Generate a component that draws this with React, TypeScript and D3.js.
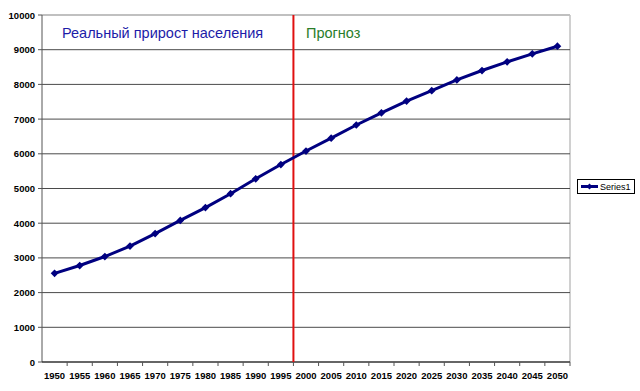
import React from 'react';
import * as d3 from 'd3';

const years = ['1950', '1955', '1960', '1965', '1970', '1975', '1980', '1985', '1990', '1995', '2000',
  '2005', '2010', '2015', '2020', '2025', '2030', '2035', '2040', '2045', '2050'];
const population = [2555, 2780, 3040, 3340, 3700, 4080, 4450, 4850, 5280, 5690, 6080,
  6450, 6830, 7180, 7520, 7820, 8130, 8400, 8650, 8880, 9100];
const yTicks = [0, 1000, 2000, 3000, 4000, 5000, 6000, 7000, 8000, 9000, 10000];
const seriesName = 'Series1';
const splitYear = '2000';

const W = 640;
const H = 391;
const plot = { left: 42, right: 570, top: 15, bottom: 362 };

export default function App() {
  const x = d3.scaleBand().domain(years).range([plot.left, plot.right]).padding(0);
  const y = d3.scaleLinear().domain([0, 10000]).range([plot.bottom, plot.top]);
  const cx = (d: string) => (x(d) as number) + x.bandwidth() / 2;

  const line = d3.line<number>()
    .x((_, i) => cx(years[i]))
    .y(d => y(d));

  // Excel-style diamond: a square turned 45 degrees
  const diamond = d3.symbol().type(d3.symbolSquare).size(30)() as string;
  const splitX = x(splitYear) as number;
  const font = '"Liberation Sans", Arial, sans-serif';

  return (
    <svg width={W} height={H} style={{ position: 'absolute', left: 0, top: 0, background: '#fff' }}
      fontFamily={font}>
      <rect x={0} y={0} width={W} height={H} fill="#fff" />
      {/* plot border */}
      <line x1={plot.left} x2={plot.right} y1={plot.top} y2={plot.top} stroke="#c0c0c0" strokeWidth={2} />
      <line x1={plot.right} x2={plot.right} y1={plot.top} y2={plot.bottom} stroke="#c0c0c0" strokeWidth={1.5} />
      {/* gridlines */}
      {yTicks.filter(t => t > 0 && t < 10000).map(t => (
        <line key={t} x1={plot.left} x2={plot.right} y1={y(t)} y2={y(t)} stroke="#4a4a4a" strokeWidth={1} />
      ))}
      {/* y axis */}
      <line x1={plot.left} x2={plot.left} y1={plot.top} y2={plot.bottom} stroke="#555" strokeWidth={1} />
      {yTicks.map(t => (
        <g key={t}>
          <line x1={plot.left - 4} x2={plot.left} y1={y(t)} y2={y(t)} stroke="#555" />
          <text x={plot.left - 7} y={y(t) + 3.5} textAnchor="end" fontSize={9.5} fontWeight="bold" fill="#000">{t}</text>
        </g>
      ))}
      {/* x axis */}
      <line x1={plot.left} x2={plot.right} y1={plot.bottom} y2={plot.bottom} stroke="#333" strokeWidth={1.5} />
      {years.map(d => (
        <g key={d}>
          <line x1={(x(d) as number) + x.bandwidth()} x2={(x(d) as number) + x.bandwidth()}
            y1={plot.bottom} y2={plot.bottom + 4} stroke="#555" />
          <text x={cx(d)} y={plot.bottom + 17} textAnchor="middle" fontSize={9.5} fontWeight="bold" fill="#000">{d}</text>
        </g>
      ))}
      {/* split line */}
      <line x1={splitX} x2={splitX} y1={plot.top} y2={plot.bottom} stroke="#e01010" strokeWidth={2} />
      {/* annotations */}
      <text x={62} y={38} fontSize={14.5} fill="#1c1ca8">Реальный прирост населения</text>
      <text x={306} y={38} fontSize={14.5} fill="#2a7d2a">Прогноз</text>
      {/* series */}
      <path d={line(population) as string} fill="none" stroke="#000080" strokeWidth={3} />
      {population.map((v, i) => (
        <path key={i} d={diamond} transform={`translate(${cx(years[i])},${y(v)}) rotate(45)`} fill="#000080" />
      ))}
      {/* legend */}
      <rect x={577.5} y={179.5} width={57} height={14} fill="#fff" stroke="#000" strokeWidth={1} />
      <line x1={581} x2={598} y1={186.5} y2={186.5} stroke="#000080" strokeWidth={3} />
      <path d={d3.symbol().type(d3.symbolSquare).size(18)() as string} transform="translate(589.5,186.5) rotate(45)" fill="#000080" />
      <text x={600} y={190} fontSize={9} fill="#000">{seriesName}</text>
    </svg>
  );
}
